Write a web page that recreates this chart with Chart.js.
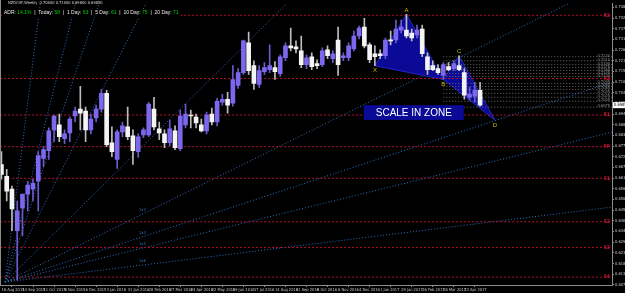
<!DOCTYPE html>
<html>
<head>
<meta charset="utf-8">
<script src="https://cdn.jsdelivr.net/npm/chart.js@4.4.1/dist/chart.umd.min.js"></script>
<style>
html, body { margin: 0; padding: 0; background: #000; }
#chartView { display: block; }
</style>
</head>
<body>
<canvas id="chartView" width="625" height="293"></canvas>
<script>
// weekly NZDCHF candles, one per week starting 16 Aug 2015
var dateLabels = ['16 Aug 2015', '13 Sep 2015', '11 Oct 2015', '8 Nov 2015', '6 Dec 2015', '3 Jan 2016',
    '31 Jan 2016', '28 Feb 2016', '27 Mar 2016', '24 Apr 2016', '22 May 2016', '19 Jun 2016', '17 Jul 2016',
    '14 Aug 2016', '11 Sep 2016', '9 Oct 2016', '6 Nov 2016', '4 Dec 2016', '1 Jan 2017', '29 Jan 2017',
    '26 Feb 2017', '26 Mar 2017', '23 Apr 2017'];

var opens = [0.6685, 0.6625, 0.6560, 0.6350, 0.6465, 0.6535, 0.6560, 0.6600, 0.6715, 0.6755,
    0.6860, 0.6885, 0.6815, 0.6845, 0.6930, 0.6965, 0.6955, 0.6860, 0.6920, 0.6965,
    0.7045, 0.6795, 0.6710, 0.6850, 0.6875, 0.6830, 0.6750, 0.6835, 0.6835, 0.6965,
    0.6865, 0.6840, 0.6795, 0.6855, 0.6765, 0.6885, 0.6935, 0.6925, 0.6885, 0.6855,
    0.6940, 0.6900, 0.7000, 0.7015, 0.6995, 0.7085, 0.7150, 0.7300, 0.7185, 0.7090,
    0.7155, 0.7165, 0.7175, 0.7145, 0.7225, 0.7285, 0.7280, 0.7260, 0.7190, 0.7230,
    0.7195, 0.7190, 0.7265, 0.7220, 0.7315, 0.7225, 0.7225, 0.7270, 0.7335, 0.7380,
    0.7290, 0.7245, 0.7245, 0.7235, 0.7315, 0.7315, 0.7365, 0.7365, 0.7350, 0.7340,
    0.7370, 0.7230, 0.7185, 0.7170, 0.7135, 0.7180, 0.7170, 0.7185, 0.7150, 0.7025,
    0.7030, 0.7060];
var highs = [0.6750, 0.6660, 0.6575, 0.6500, 0.6500, 0.6600, 0.6610, 0.6750, 0.6775, 0.6870,
    0.6935, 0.6940, 0.6860, 0.6925, 0.6975, 0.7080, 0.6975, 0.6940, 0.6985, 0.7065,
    0.7060, 0.6875, 0.6860, 0.6900, 0.6975, 0.6860, 0.6840, 0.6870, 0.7000, 0.7025,
    0.6900, 0.6860, 0.6910, 0.6880, 0.6960, 0.6990, 0.6960, 0.6940, 0.6915, 0.6950,
    0.6970, 0.7020, 0.7040, 0.7050, 0.7185, 0.7170, 0.7315, 0.7355, 0.7210, 0.7185,
    0.7200, 0.7290, 0.7205, 0.7240, 0.7300, 0.7375, 0.7310, 0.7335, 0.7240, 0.7250,
    0.7215, 0.7275, 0.7285, 0.7260, 0.7380, 0.7250, 0.7300, 0.7360, 0.7385, 0.7425,
    0.7300, 0.7285, 0.7265, 0.7325, 0.7360, 0.7415, 0.7415, 0.7445, 0.7370, 0.7390,
    0.7390, 0.7250, 0.7210, 0.7190, 0.7200, 0.7200, 0.7210, 0.7235, 0.7170, 0.7075,
    0.7100, 0.7100];
var lows = [0.6610, 0.6500, 0.6350, 0.6100, 0.6325, 0.6450, 0.6500, 0.6450, 0.6675, 0.6710,
    0.6800, 0.6800, 0.6790, 0.6800, 0.6900, 0.6860, 0.6800, 0.6840, 0.6900, 0.6950,
    0.6775, 0.6725, 0.6665, 0.6825, 0.6810, 0.6685, 0.6720, 0.6820, 0.6825, 0.6860,
    0.6810, 0.6770, 0.6780, 0.6760, 0.6755, 0.6870, 0.6870, 0.6870, 0.6850, 0.6840,
    0.6885, 0.6880, 0.6985, 0.6945, 0.6980, 0.7070, 0.7140, 0.7140, 0.7065, 0.7075,
    0.7140, 0.7150, 0.7115, 0.7130, 0.7210, 0.7260, 0.7250, 0.7175, 0.7170, 0.7165,
    0.7170, 0.7180, 0.7220, 0.7200, 0.7135, 0.7210, 0.7210, 0.7260, 0.7320, 0.7275,
    0.7200, 0.7185, 0.7220, 0.7220, 0.7290, 0.7300, 0.7350, 0.7325, 0.7310, 0.7325,
    0.7230, 0.7140, 0.7160, 0.7140, 0.7115, 0.7160, 0.7160, 0.7160, 0.7015, 0.7010,
    0.7000, 0.6980];
var closes = [0.6635, 0.6550, 0.6460, 0.6450, 0.6535, 0.6580, 0.6590, 0.6730, 0.6760, 0.6855,
    0.6930, 0.6825, 0.6840, 0.6915, 0.6955, 0.6945, 0.6860, 0.6915, 0.6965, 0.7045,
    0.6785, 0.6750, 0.6850, 0.6880, 0.6825, 0.6755, 0.6825, 0.6860, 0.6990, 0.6875,
    0.6845, 0.6795, 0.6865, 0.6770, 0.6930, 0.6940, 0.6930, 0.6895, 0.6855, 0.6935,
    0.6900, 0.7005, 0.7015, 0.6985, 0.7115, 0.7150, 0.7310, 0.7160, 0.7095, 0.7160,
    0.7175, 0.7185, 0.7155, 0.7230, 0.7285, 0.7275, 0.7270, 0.7190, 0.7225, 0.7180,
    0.7185, 0.7260, 0.7235, 0.7245, 0.7190, 0.7235, 0.7285, 0.7335, 0.7375, 0.7285,
    0.7215, 0.7230, 0.7235, 0.7315, 0.7310, 0.7370, 0.7380, 0.7335, 0.7325, 0.7365,
    0.7245, 0.7165, 0.7165, 0.7150, 0.7190, 0.7165, 0.7195, 0.7165, 0.7035, 0.7040,
    0.7060, 0.6985];

var priceTicks = [0.7480, 0.7426, 0.7372, 0.7318, 0.7264, 0.7210, 0.7156, 0.7102, 0.7048, 0.6994,
    0.6940, 0.6886, 0.6832, 0.6778, 0.6724, 0.6670, 0.6616, 0.6562, 0.6508, 0.6454,
    0.6400, 0.6346, 0.6292, 0.6238, 0.6184, 0.6130, 0.6076];

// red pivot levels
var levelPrices = [0.7440, 0.7120, 0.6935, 0.6775, 0.6615, 0.6395, 0.6265, 0.6115];
var levelNames = ['R3', 'R2', 'R1', 'PP', 'S1', 'S2', 'S3', 'S4'];

// grey fibo levels drawn from point B
var fibPrices = [0.7230, 0.7210, 0.7190, 0.7175, 0.7160, 0.7145, 0.7130, 0.7095, 0.7080, 0.7065,
    0.7045, 0.7025, 0.7005, 0.6975];

// gann fan
var fanOrigin = { x: 0.68, y: 0.6090 };
var fanUnit = 0.00263;
var fanRatios = [8, 4, 3, 2, 1, 1 / 2, 1 / 3, 1 / 4, 1 / 8];
var fanNames = ['8x1', '4x1', '3x1', '2x1', '1x1', '1x2', '1x3', '1x4', '1x8'];

// XABCD pattern
var patternNames = ['X', 'A', 'B', 'C', 'D'];
var patternIdx = [71, 77, 84, 87, 93.8];
var patternPrices = [0.7185, 0.7445, 0.7115, 0.7235, 0.6910];

var zoneText = 'SCALE IN ZONE';
var zoneFrom = [68.9, 0.6985];
var zoneTo = [87.9, 0.6910];

var adrNames = ['Today', '1 Day', '5 Day', '10 Day', '20 Day'];
var adrValues = [58, 63, 61, 75, 71];
var adrPct = '14.1%';
var chartTitle = 'NZDCHF,Weekly  0.70600 0.71000 0.69800 0.69850';

var uiFont = '"Liberation Sans Narrow", "DejaVu Sans Condensed", "Liberation Sans", Arial, sans-serif';
var bullColor = '#7b68ee';
var bearColor = '#f4f4f4';

function bodyData() {
    return opens.map(function (o, i) {
        return { x: i, y: [Math.min(o, closes[i]), Math.max(o, closes[i])] };
    });
}
function wickData() {
    return highs.map(function (h, i) { return { x: i, y: [lows[i], h] }; });
}
function lineSet(points, color, dash, order) {
    return {
        type: 'line', data: points, borderColor: color, borderWidth: 1, borderDash: dash,
        pointRadius: 0, fill: false, tension: 0, order: order
    };
}

var datasets = [
    {
        label: 'body', data: bodyData(), order: 0, grouped: false, barThickness: 4, minBarLength: 1,
        backgroundColor: opens.map(function (o, i) { return closes[i] >= o ? bullColor : bearColor; }),
        borderWidth: 0
    },
    {
        label: 'wick', data: wickData(), order: 1, grouped: false, barThickness: 1,
        backgroundColor: opens.map(function (o, i) { return closes[i] >= o ? '#6a5acd' : '#bdbdbd'; })
    }
];

// pattern triangles
var tri1 = [0, 1, 2, 0].map(function (k) { return { x: patternIdx[k], y: patternPrices[k] }; });
var tri2 = [2, 3, 4, 2].map(function (k) { return { x: patternIdx[k], y: patternPrices[k] }; });
[tri1, tri2].forEach(function (t) {
    var d = lineSet(t, '#2424c8', [], 5);
    d.fill = 'shape';
    d.backgroundColor = '#0a0a96';
    datasets.push(d);
});

levelPrices.forEach(function (p) {
    datasets.push(lineSet([{ x: -1, y: p }, { x: 117, y: p }], '#b4142d', [2, 2], 3));
});
fibPrices.forEach(function (p) {
    datasets.push(lineSet([{ x: patternIdx[2], y: p }, { x: 117, y: p }], '#6e6e6e', [1, 2], 4));
});
fanRatios.forEach(function (r) {
    var len = 130;
    datasets.push(lineSet([fanOrigin, { x: fanOrigin.x + len, y: fanOrigin.y + r * fanUnit * len }],
        '#2a72c0', [1, 2], 6));
});

var overlay = {
    id: 'overlay',
    beforeDraw: function (chart) {
        var c = chart.ctx;
        c.save();
        c.fillStyle = '#000';
        c.fillRect(0, 0, chart.width, chart.height);
        c.restore();
    },
    afterDatasetsDraw: function (chart) {
        var c = chart.ctx, xs = chart.scales.x, ys = chart.scales.y, a = chart.chartArea;
        c.save();
        // zone box
        var x1 = xs.getPixelForValue(zoneFrom[0]), x2 = xs.getPixelForValue(zoneTo[0]);
        var y1 = ys.getPixelForValue(zoneFrom[1]), y2 = ys.getPixelForValue(zoneTo[1]);
        c.fillStyle = '#0a0a96';
        c.fillRect(x1, y1, x2 - x1, y2 - y1);
        c.fillStyle = '#ffffff';
        c.font = '10px "Liberation Sans", Arial, sans-serif';
        c.textAlign = 'center';
        c.textBaseline = 'middle';
        c.fillText(zoneText, (x1 + x2) / 2, (y1 + y2) / 2 + 1);

        // pattern labels
        c.font = '6px "Liberation Sans", Arial, sans-serif';
        c.fillStyle = '#c8bc00';
        patternNames.forEach(function (n, k) {
            var px = xs.getPixelForValue(patternIdx[k]), py = ys.getPixelForValue(patternPrices[k]);
            var up = (k === 1 || k === 3);
            c.fillText(n, px, up ? py - 4 : py + 5);
        });

        // fan labels
        c.fillStyle = '#2a72c0';
        c.font = '4px ' + uiFont;
        [5, 6, 7, 8].forEach(function (k) {
            var ix = 26.8;
            var py = ys.getPixelForValue(fanOrigin.y + fanRatios[k] * fanUnit * (ix - fanOrigin.x));
            c.fillText(fanNames[k], xs.getPixelForValue(ix), py - 4);
        });

        // level labels
        c.textAlign = 'right';
        c.font = 'bold 5px ' + uiFont;
        c.fillStyle = '#c8142d';
        levelPrices.forEach(function (p, k) {
            c.fillText(levelNames[k], a.right - 2, ys.getPixelForValue(p));
        });
        c.fillStyle = '#8a8a8a';
        c.font = '4px ' + uiFont;
        fibPrices.forEach(function (p) {
            c.fillText(p.toFixed(4), a.right - 2, ys.getPixelForValue(p) - 1);
        });

        // header texts, each on a black label background
        c.textAlign = 'left';
        c.textBaseline = 'middle';
        c.font = '4px ' + uiFont;
        c.fillStyle = '#d8d8d8';
        c.fillText(chartTitle, 8, 3);
        c.font = '5px "Liberation Sans", Arial, sans-serif';
        var tx = 4;
        var parts = [['ADR: ', '#e8e8e8'], [adrPct, '#00d000']];
        adrNames.forEach(function (n, k) {
            parts.push(['  |  ' + n + ': ', '#e8e8e8']);
            parts.push([String(adrValues[k]), '#00d000']);
        });
        var total = parts.reduce(function (s, p) { return s + c.measureText(p[0]).width; }, 0);
        c.fillStyle = '#000';
        c.fillRect(2, 9, total + 4, 8);
        parts.forEach(function (p) {
            c.fillStyle = p[1];
            c.fillText(p[0], tx, 13);
            tx += c.measureText(p[0]).width;
        });

        // frame
        c.strokeStyle = '#8c8c8c';
        c.lineWidth = 1;
        c.beginPath();
        c.moveTo(0.5, 0);
        c.lineTo(0.5, a.bottom + 0.5);
        c.stroke();

        // current price box
        var cp = ys.getPixelForValue(closes[closes.length - 1]);
        c.fillStyle = '#ffffff';
        c.fillRect(a.right + 1, cp - 3, 14, 6);
        c.fillStyle = '#000';
        c.font = '4px ' + uiFont;
        c.fillText(closes[closes.length - 1].toFixed(5), a.right + 2, cp);
        c.restore();
    }
};

new Chart(document.getElementById('chartView').getContext('2d'), {
    type: 'bar',
    data: { datasets: datasets },
    options: {
        responsive: false,
        animation: false,
        devicePixelRatio: 1,
        layout: { padding: 0 },
        plugins: { legend: { display: false }, tooltip: { enabled: false } },
        scales: {
            x: {
                type: 'linear', min: -0.274, max: 116.08, offset: false,
                grid: { drawOnChartArea: false, color: '#8c8c8c', tickLength: 2 },
                border: { color: '#8c8c8c' },
                afterBuildTicks: function (s) {
                    s.ticks = dateLabels.map(function (d, k) { return { value: k * 4 }; });
                },
                afterFit: function (s) { s.height = 8; },
                ticks: {
                    autoSkip: false, maxRotation: 0, align: 'start', padding: 1,
                    color: '#c8c8c8', font: { size: 4, family: uiFont },
                    callback: function (v, i) { return dateLabels[i]; }
                }
            },
            y: {
                type: 'linear', position: 'right', min: 0.6075, max: 0.75,
                grid: { drawOnChartArea: false, color: '#8c8c8c', tickLength: 2 },
                border: { color: '#8c8c8c' },
                afterBuildTicks: function (s) {
                    s.ticks = priceTicks.map(function (v) { return { value: v }; });
                },
                afterFit: function (s) { s.width = 13; },
                ticks: {
                    autoSkip: false, padding: 1, color: '#c8c8c8', font: { size: 4, family: uiFont },
                    callback: function (v) { return v.toFixed(5); }
                }
            }
        }
    },
    plugins: [overlay]
});
</script>
</body>
</html>
